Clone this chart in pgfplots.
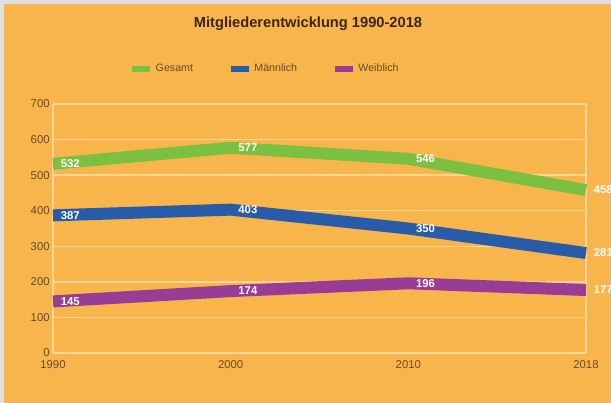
\documentclass[border=0pt]{standalone}
\usepackage{pgfplots}
\pgfplotsset{compat=1.18}
\usepackage{fontspec}
\setmainfont{Liberation Sans}
\definecolor{bgorange}{RGB}{248,181,76}
\definecolor{bggrey}{RGB}{221,223,226}
\definecolor{gridc}{RGB}{252,214,150}
\definecolor{cgreen}{RGB}{124,192,66}
\definecolor{cblue}{RGB}{40,92,168}
\definecolor{cpurple}{RGB}{152,60,150}
\definecolor{titlec}{RGB}{60,38,18}
\definecolor{tickc}{RGB}{105,75,35}
\begin{document}
\begin{tikzpicture}
\useasboundingbox (0,0) rectangle (458.25pt,302.25pt);
\fill[bggrey] (0,0) rectangle (458.25pt,302.25pt);
\fill[bgorange] (3pt,0) rectangle (458.25pt,299.25pt);
\node[font=\fontsize{11}{13}\selectfont\bfseries, text=titlec] at (231pt,284.5pt) {Mitgliederentwicklung 1990-2018};
\begin{axis}[
  at={(39.75pt,37.5pt)}, anchor=south west,
  scale only axis, width=399.75pt, height=186.75pt,
  xmin=0, xmax=3, ymin=0, ymax=700,
  xtick={0,1,2,3}, xticklabels={1990,2000,2010,2018},
  ytick={0,100,...,700},
  ymajorgrids, grid style={gridc, line width=1pt},
  axis line style={gridc, line width=1pt},
  axis x line*=bottom, axis y line*=left,
  major tick length=0pt,
  tick label style={font=\fontsize{8.5}{10}\selectfont, text=tickc},
  /pgf/number format/assume math mode=true,
  xticklabel style={yshift=-2.5pt},
  yticklabel style={xshift=1pt},
  clip=false,
  nodes near coords,
  every node near coord/.append style={anchor=west, xshift=-2pt, text=white, font=\fontsize{8.5}{10}\selectfont\bfseries},
  legend columns=3,
  legend style={draw=none, fill=none, at={(0.398,1.14)}, anchor=center,
    font=\fontsize{8}{9}\selectfont, text=tickc,
    /tikz/every even column/.append style={column sep=24pt}},
  legend image code/.code={\draw[line width=4.5pt] (0pt,0pt) -- (13.5pt,0pt);},
]
\draw[gridc, line width=1pt] (axis cs:3,0) -- (axis cs:3,700);
\addplot[cgreen, line width=9pt] coordinates {(0,532) (1,577) (2,546) (3,458)};
\addlegendentry{Gesamt}
\addplot[cblue, line width=9pt] coordinates {(0,387) (1,403) (2,350) (3,281)};
\addlegendentry{Männlich}
\addplot[cpurple, line width=9pt] coordinates {(0,145) (1,174) (2,196) (3,177)};
\addlegendentry{Weiblich}
\end{axis}
\end{tikzpicture}
\end{document}
